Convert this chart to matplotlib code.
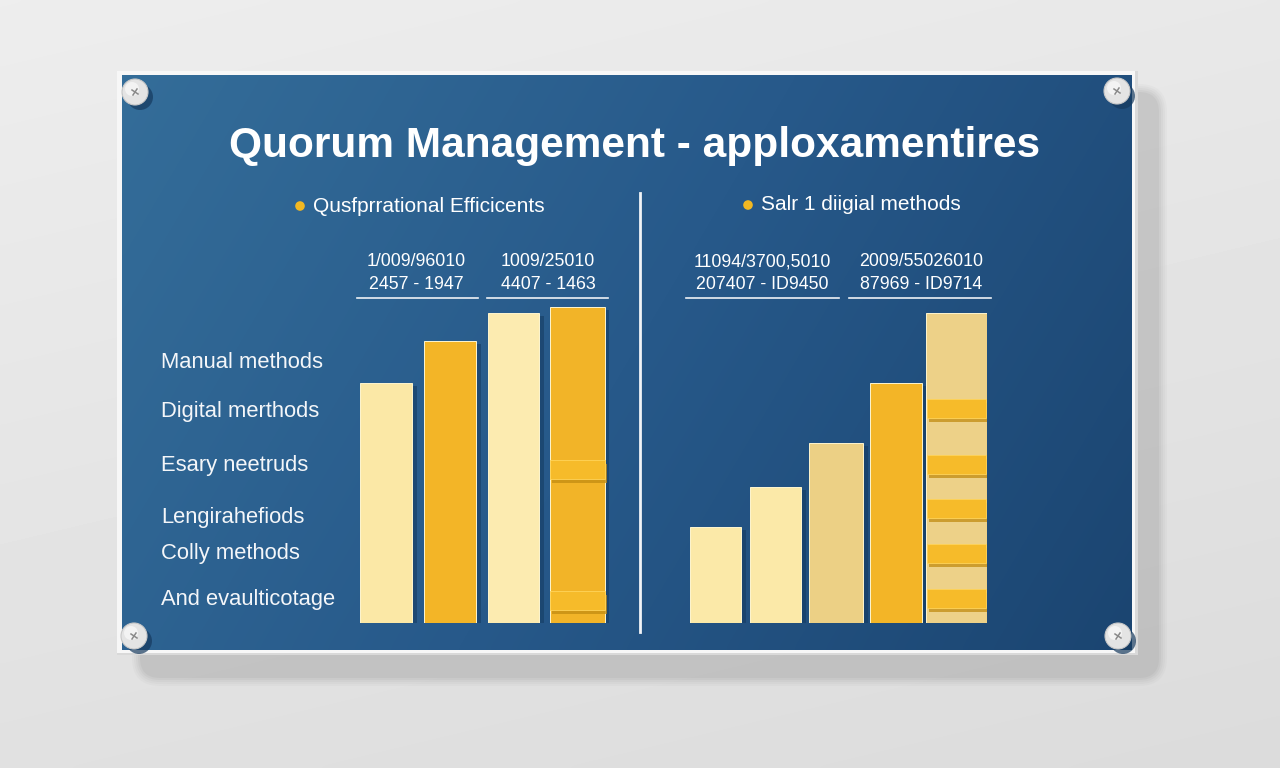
import numpy as np
import matplotlib
matplotlib.use("Agg")
import matplotlib.pyplot as plt
from matplotlib.patches import Rectangle, Circle, FancyBboxPatch
from matplotlib.colors import LinearSegmentedColormap
import matplotlib.transforms as mtransforms

# ---------------- data ----------------
title = "Quorum Management - apploxamentires"
left_subtitle = "Qusfprrational Efficicents"
right_subtitle = "Salr 1 diigial methods"
left_date_labels = ["1/009/96010\n2457 - 1947", "1009/25010\n4407 - 1463"]
right_date_labels = ["11094/3700,5010\n207407 - ID9450", "2009/55026010\n87969 - ID9714"]
category_labels = ["Manual methods", "Digital merthods", "Esary neetruds",
                   "Lengirahefiods", "Colly methods", "And evaulticotage"]

left_values = [240, 282, 310, 316]
right_values = [96, 136, 180, 240, 310]
left_band_bottoms = [13, 144]            # bands inside the 4th left bar
right_band_bottoms = [15, 60, 105, 149, 205]  # bands inside the 5th right bar
band_height = 19

left_colors = ["#fbe8a6", "#f3b527", "#fcebb0", "#f2b428"]
right_colors = ["#fbe9a8", "#fbe9a8", "#ecd085", "#f3b527", "#edd188"]
band_color = "#f6bb2a"

W, H = 1280, 768
fig = plt.figure(figsize=(12.8, 7.68), dpi=100)

# ---------------- decoration layer (pixel coordinates) ----------------
ax0 = fig.add_axes([0, 0, 1, 1])
ax0.set_xlim(0, W)
ax0.set_ylim(H, 0)
ax0.axis("off")

# wall background gradient
yy, xx = np.mgrid[0:1:200j, 0:1:320j]
bg = 0.93 - 0.05 * yy - 0.02 * xx
ax0.imshow(bg, extent=[0, W, H, 0], cmap="gray", vmin=0, vmax=1,
           aspect="auto", zorder=0, interpolation="bicubic")

# soft shadow of the sign
for i, a in enumerate([0.05, 0.06, 0.07, 0.09, 0.11]):
    g = 10 - 2 * i
    ax0.add_patch(FancyBboxPatch((142 - g, 94 - g), 1015 + 2 * g, 582 + 2 * g,
                                 boxstyle="round,pad=0,rounding_size=%d" % (18 + g),
                                 fc="#8a8a8a", ec="none", alpha=a, zorder=1))

# frame
ax0.add_patch(Rectangle((117, 71), 1021, 584, fc="#d9d9d9", ec="none", zorder=2))
ax0.add_patch(Rectangle((117, 71), 1018, 582, fc="#f7f7f7", ec="none", zorder=2))

# blue panel gradient
yy, xx = np.mgrid[0:1:100j, 0:1:300j]
t = 0.75 * xx + 0.25 * yy
cmap_panel = LinearSegmentedColormap.from_list("panel", ["#346d99", "#27598a", "#1b4571"])
ax0.imshow(t, extent=[122, 1132, 650, 75], cmap=cmap_panel, vmin=0, vmax=1,
           aspect="auto", zorder=3, interpolation="bicubic")

# screws
for (cx, cy) in [(135, 92), (1117, 91), (134, 636), (1118, 636)]:
    ax0.add_patch(Circle((cx + 5, cy + 5), 13, fc="#163a5e", ec="none", alpha=0.7, zorder=4))
    ax0.add_patch(Circle((cx, cy), 13, fc="#e4e4e4", ec="#c8c8c8", lw=0.8, zorder=5))
    ax0.add_patch(Circle((cx - 3, cy - 3), 7, fc="#f6f6f6", ec="none", alpha=0.85, zorder=5))
    ax0.plot([cx - 3, cx + 3], [cy - 2, cy + 2], color="#8a8a8a", lw=1.1, zorder=6)
    ax0.plot([cx - 2, cx + 2], [cy + 3, cy - 3], color="#8a8a8a", lw=1.1, zorder=6)

# title
ax0.text(635, 146, title, color="white", fontsize=30.5, fontweight="bold",
         family="Liberation Sans", ha="center", va="center", zorder=10)

# subtitles with yellow dots
ax0.add_patch(Circle((300, 206), 4.8, fc="#f2b822", ec="none", zorder=10))
ax0.text(313, 206, left_subtitle, color="white", fontsize=15,
         family="Liberation Sans", ha="left", va="center", zorder=10)
ax0.add_patch(Circle((748, 205), 4.8, fc="#f2b822", ec="none", zorder=10))
ax0.text(761, 205, right_subtitle, color="white", fontsize=15,
         family="Liberation Sans", ha="left", va="center", zorder=10)

# divider
ax0.plot([640, 640], [193, 632], color="#f2f4f7", lw=2, zorder=10)

# date labels with underlines
date_specs = [(416, 357, 478, left_date_labels[0]), (548, 487, 608, left_date_labels[1]),
              (762, 686, 839, right_date_labels[0]), (921, 849, 991, right_date_labels[1])]
for cx, x0, x1, lab in date_specs:
    ax0.text(cx, 273, lab, color="white", fontsize=12.8, family="Liberation Sans",
             ha="center", va="center", linespacing=1.4, zorder=10)
    ax0.plot([x0, x1], [298, 298], color="#eef1f5", lw=1.2, zorder=10)

# category labels
label_y = [362, 411, 466, 517, 553, 600]
for y, lab in zip(label_y, category_labels):
    ax0.text(161, y, lab, color="#f4f6f9", fontsize=15.8, family="Liberation Sans",
             ha="left", va="center", zorder=10)


# ---------------- bar axes ----------------
def bar_axes(x_left_px, x_right_px, bottom_px, top_px):
    return fig.add_axes([x_left_px / W, (H - bottom_px) / H,
                         (x_right_px - x_left_px) / W, (bottom_px - top_px) / H])


def draw_bars(ax, values, colors, widths):
    x = np.arange(len(values))
    shadow = mtransforms.offset_copy(ax.transData, fig=fig, x=5, y=-3, units="dots")
    sb = ax.bar(x, values, width=widths, color="#143a60", alpha=0.55, zorder=1)
    for p in sb.patches:
        p.set_transform(shadow)
    ax.bar(x, values, width=widths, color=colors, edgecolor="#fff6cf",
           linewidth=0.7, zorder=2)
    return x


def draw_bands(ax, xpos, bottoms, width):
    shadow = mtransforms.offset_copy(ax.transData, fig=fig, x=2, y=-4, units="dots")
    n = len(bottoms)
    sb = ax.bar([xpos] * n, [band_height] * n, bottom=bottoms, width=width,
                color="#c28c12", alpha=0.75, zorder=3)
    for p in sb.patches:
        p.set_transform(shadow)
    ax.bar([xpos] * n, [band_height] * n, bottom=bottoms, width=width,
           color=band_color, edgecolor="#ffd45a", linewidth=0.6, zorder=4)


# left chart
axL = bar_axes(354.15, 609.05, 623, 293)
axL.set_xlim(-0.5, len(left_values) - 0.5)
axL.set_ylim(0, 330)
wL = [0.82, 0.82, 0.80, 0.86]
xl = draw_bars(axL, left_values, left_colors, wL)
draw_bands(axL, xl[-1], left_band_bottoms, wL[-1])
axL.axis("off")

# right chart
axR = bar_axes(685.4, 986.6, 623, 293)
axR.set_xlim(-0.5, len(right_values) - 0.5)
axR.set_ylim(0, 330)
wR = [0.85, 0.85, 0.88, 0.86, 1.0]
xr = draw_bars(axR, right_values, right_colors, wR)
draw_bands(axR, xr[-1], right_band_bottoms, 0.97)
axR.axis("off")

fig.savefig("out.png", dpi=100)
